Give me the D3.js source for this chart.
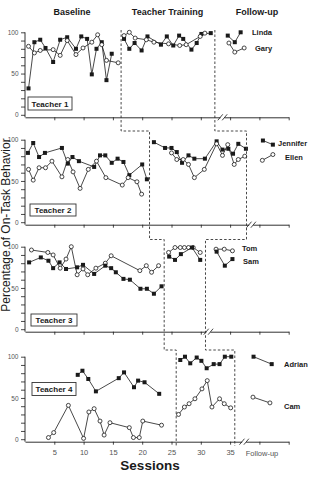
<!DOCTYPE html>
<html>
<head>
<meta charset="utf-8">
<script src="https://cdn.jsdelivr.net/npm/d3@7"></script>
<style>
  body { margin: 0; background: #fff; }
  svg { display: block; font-family: "Liberation Sans", Arial, Helvetica, sans-serif; }
</style>
</head>
<body>
<svg id="chart" width="311" height="478"></svg>
<script>

// ---- data (sessions, % on-task) ----
var sessionTicks = [5, 10, 15, 20, 25, 30, 35, 40, 45];
var tickLabels = [5, 10, 15, 20, 25, 30, 35];
var yTicks = [0, 10, 20, 30, 40, 50, 60, 70, 80, 90, 100];
var phaseNames = ["Baseline", "Teacher Training", "Follow-up"];
var teachers = ["Teacher 1", "Teacher 2", "Teacher 3", "Teacher 4"];
var students = [["Linda", "Gary"], ["Jennifer", "Ellen"], ["Tom", "Sam"], ["Adrian", "Cam"]];

// phase change points and axis breaks, in sessions
var baselineEnd = [16.4, 21.25, 23.75, 25.8];
var trainingEnd = [32.4, 37.8, 30.8, 35.8];
var axisBreak = [33.7, 38.6, 31.3, 37.4];

// Teacher 1
var lindaBase = [[0.6,32],[1.6,88],[2.6,91],[3.5,81],[4.8,64],[6.0,91],[7.2,94],[8.7,80],[9.6,95],[10.6,92],[11.4,49],[12.2,80],[13.1,88],[13.9,42],[14.8,74]];
var garyBase = [[0.6,83],[1.6,75],[2.6,78],[4.8,79],[6.0,72],[7.2,90],[8.7,73],[9.9,81],[11.4,88],[12.4,97],[13.1,85],[13.9,66],[15.9,63]];
var lindaTrain = [[16.9,92],[17.8,80],[18.7,87],[19.9,78],[20.9,95],[23.2,85],[24.2,95],[25.3,84],[26.3,96],[27.0,92],[28.4,79],[29.3,87],[30.1,98],[31.7,99]];
var garyTrain = [[16.9,96],[17.8,100],[18.8,93],[20.7,91],[22.0,88],[24.5,86],[26.4,84],[27.5,85],[29.9,95],[30.7,99]];
var lindaFollow = [[34.6,96],[35.8,88],[36.8,100]];
var garyFollow = [[34.8,87],[35.8,76],[37.4,81]];

// Teacher 2
var jenBase = [[0.5,84],[1.4,96],[2.4,79],[3.4,84],[6.3,90],[7.3,71],[8.1,79],[9.2,74],[11.8,67],[12.8,81],[13.7,81],[14.8,72],[15.8,77],[16.8,73],[17.8,57],[20.0,70],[20.8,52]];
var ellenBase = [[0.6,64],[1.4,51],[2.4,66],[3.5,66],[4.6,74],[6.3,55],[7.3,76],[8.2,61],[9.4,41],[10.8,64],[12.2,74],[13.8,54],[16.6,45],[17.6,54],[19.1,49],[19.9,34]];
var jenTrain = [[22.0,97],[23.9,90],[25.0,90],[25.9,85],[26.8,72],[27.9,81],[28.9,77],[30.7,77],[32.7,98],[33.7,88],[34.7,89],[35.5,83],[36.4,95],[37.7,89]];
var ellenTrain = [[25.0,84],[25.9,76],[27.0,76],[27.9,70],[28.9,54],[30.6,64],[32.7,95],[33.7,81],[34.6,94],[35.7,70],[36.4,76],[37.5,80]];
var jenFollow = [[40.6,99],[42.3,94]];
var ellenFollow = [[40.5,75],[42.3,82]];

// Teacher 3
var tomBase = [[1.1,96],[3.9,93],[4.8,90],[6.0,74],[7.0,85],[7.9,100],[8.9,66],[9.9,73],[10.7,66],[12.1,74],[13.7,80],[14.7,89],[19.6,71],[20.7,77],[21.6,69],[22.8,77]];
var samBase = [[0.7,81],[2.7,87],[4.0,83],[4.8,74],[5.9,81],[7.0,73],[8.9,75],[9.9,78],[11.8,67],[13.7,77],[14.7,74],[15.5,69],[16.8,61],[17.9,60],[19.7,49],[20.8,49],[22.0,43],[23.3,52]];
var tomTrain = [[24.5,93],[25.6,99],[26.5,99],[27.2,99],[27.9,99],[28.7,99],[29.9,93]];
var samTrain = [[24.6,88],[25.6,84],[26.6,91],[28.5,99],[29.9,84]];
var tomFollow = [[32.6,97],[34.0,97],[35.4,95]];
var samFollow = [[32.7,94],[34.1,77],[35.4,85]];

// Teacher 4
var adrianBase = [[9.0,78],[9.8,83],[10.8,73],[12.1,58],[16.0,74],[16.9,81],[18.6,63],[19.3,71],[20.4,69],[22.9,55]];
var camBase = [[4.0,2],[4.9,8],[7.4,41],[10.0,1],[10.9,33],[11.8,37],[12.8,22],[13.5,5],[14.5,20],[17.8,14],[18.5,2],[19.5,2],[20.1,22],[23.3,17]];
var adrianTrain = [[26.5,96],[27.3,100],[28.2,92],[29.3,99],[30.1,95],[31.0,86],[32.2,91],[33.2,91],[34.1,100],[35.2,100]];
var camTrain = [[26.2,30],[27.2,39],[28.0,43],[29.0,49],[30.2,61],[31.1,71],[31.9,39],[33.2,49],[34.0,43],[35.1,38]];
var adrianFollow = [[39.0,100],[42.1,91]];
var camFollow = [[38.9,51],[41.8,44]];

// series per panel: [phases], marker type
var panelSeries = [
  [{ phases: [lindaBase, lindaTrain, lindaFollow], mark: "square" },
   { phases: [garyBase, garyTrain, garyFollow], mark: "circle" }],
  [{ phases: [jenBase, jenTrain, jenFollow], mark: "square" },
   { phases: [ellenBase, ellenTrain, ellenFollow], mark: "circle" }],
  [{ phases: [tomBase, tomTrain, tomFollow], mark: "circle" },
   { phases: [samBase, samTrain, samFollow], mark: "square" }],
  [{ phases: [adrianBase, adrianTrain, adrianFollow], mark: "square" },
   { phases: [camBase, camTrain, camFollow], mark: "circle" }]
];

//=========================================================================
// layout
//=========================================================================
var svg = d3.select("#chart");
var ink = "#1a1a1a";
var panelTop = [32.3, 139.7, 246.7, 356.7],
    panelH = 82.5,
    axisGap = 2.5,
    stepY = [131, 239.5, 350],   // where the phase lines jog between panels
    lineBottom = 446;

var x = d3.scaleLinear().domain([0, 45]).range([25, 25 + 45 * 5.86]);

var boxes = [[28, 97, 44, 13], [30, 204, 46, 12], [31, 314, 46, 12], [32, 382.5, 44, 13]];
var nameSpots = [[[252, 34.5], [255, 50.5]], [[278, 146], [285, 159.5]],
                 [[242, 251], [243, 263.5]], [[284, 366.5], [284, 408.5]]];

var line = d3.line();

panelSeries.forEach(function(series, i) {
  var y = d3.scaleLinear().domain([0, 100]).range([panelTop[i] + panelH, panelTop[i]]);
  var axisY = y(0) + axisGap;
  var g = svg.append("g");

  // y axis
  var yAxis = d3.axisLeft(y).tickValues(yTicks).tickSize(4)
    .tickFormat(function(d) { return d % 50 === 0 ? d : ""; });
  var ya = g.append("g").attr("transform", "translate(" + x(0) + ",0)").call(yAxis);
  ya.select(".domain").remove();
  ya.selectAll("line").attr("stroke", ink).attr("stroke-width", 0.8);
  ya.selectAll("text").attr("font-size", 6.5).attr("fill", "#555").attr("x", -6.5);
  g.append("line").attr("x1", x(0)).attr("x2", x(0))
    .attr("y1", y(100)).attr("y2", axisY).attr("stroke", ink).attr("stroke-width", 0.9);

  // x axis
  var xAxis = d3.axisBottom(x).tickValues(sessionTicks).tickSize(3).tickSizeOuter(0)
    .tickFormat(function(d) { return (i === 3 && tickLabels.indexOf(d) >= 0) ? d : ""; });
  var xa = g.append("g").attr("transform", "translate(0," + axisY + ")").call(xAxis);
  xa.select(".domain").attr("stroke", ink).attr("stroke-width", 0.9);
  xa.selectAll("line").attr("stroke", ink).attr("stroke-width", 0.8);
  xa.selectAll("text").attr("font-size", 7.5).attr("fill", "#555").attr("y", 7.5);

  // axis break
  var bx = x(axisBreak[i]);
  g.append("rect").attr("x", bx - 2).attr("y", axisY - 2).attr("width", 4).attr("height", 4).attr("fill", "#fff");
  [-2.2, 2.2].forEach(function(o) {
    g.append("line").attr("x1", bx + o - 2.5).attr("y1", axisY + 3)
      .attr("x2", bx + o + 2.5).attr("y2", axisY - 3)
      .attr("stroke", ink).attr("stroke-width", 0.8);
  });

  // teacher box
  var b = boxes[i];
  g.append("rect").attr("x", b[0]).attr("y", b[1]).attr("width", b[2]).attr("height", b[3])
    .attr("fill", "#fff").attr("stroke", "#333").attr("stroke-width", 0.9);
  g.append("text").attr("x", b[0] + b[2] / 2).attr("y", b[1] + b[3] / 2 + 3)
    .attr("text-anchor", "middle").attr("font-size", 8).attr("font-weight", "bold")
    .attr("fill", ink).text(teachers[i]);

  // data
  series.forEach(function(s, k) {
    s.phases.forEach(function(pts) {
      g.append("path")
        .attr("d", line(pts.map(function(p) { return [x(p[0]), y(p[1])]; })))
        .attr("fill", "none").attr("stroke", ink).attr("stroke-width", 0.8);
      if (s.mark === "square") {
        g.selectAll(null).data(pts).enter().append("rect")
          .attr("x", function(p) { return x(p[0]) - 2; })
          .attr("y", function(p) { return y(p[1]) - 2; })
          .attr("width", 4).attr("height", 4).attr("fill", ink);
      } else {
        g.selectAll(null).data(pts).enter().append("circle")
          .attr("cx", function(p) { return x(p[0]); })
          .attr("cy", function(p) { return y(p[1]); })
          .attr("r", 2).attr("fill", "#fff").attr("stroke", ink).attr("stroke-width", 0.8);
      }
    });
    var spot = nameSpots[i][k];
    g.append("text").attr("x", spot[0]).attr("y", spot[1])
      .attr("font-size", 7.5).attr("font-weight", "bold").attr("fill", ink).text(students[i][k]);
  });
});

// phase change staircase lines
function stairs(ends) {
  var pts = [[x(ends[0]), 30]];
  for (var i = 0; i < 3; i++) {
    pts.push([x(ends[i]), stepY[i]]);
    pts.push([x(ends[i + 1]), stepY[i]]);
  }
  pts.push([x(ends[3]), lineBottom]);
  return pts;
}
[baselineEnd, trainingEnd].forEach(function(ends) {
  svg.append("path").attr("d", line(stairs(ends)))
    .attr("fill", "none").attr("stroke", "#333").attr("stroke-width", 0.9)
    .attr("stroke-dasharray", "2.5,2");
});

// phase titles
var titleX = [72, 167.5, 257];
phaseNames.forEach(function(t, i) {
  svg.append("text").attr("x", titleX[i]).attr("y", 14.5).attr("text-anchor", "middle")
    .attr("font-size", 9).attr("font-weight", "bold").attr("fill", ink).text(t);
});

svg.append("text").attr("x", 262).attr("y", 455.5).attr("text-anchor", "middle")
  .attr("font-size", 7.5).attr("fill", "#555").text("Follow-up");

svg.append("text").attr("x", 150).attr("y", 470).attr("text-anchor", "middle")
  .attr("font-size", 13.5).attr("font-weight", "bold").attr("fill", ink).text("Sessions");

svg.append("text").attr("transform", "translate(9.5,225) rotate(-90)")
  .attr("text-anchor", "middle").attr("font-size", 12).attr("fill", ink)
  .text("Percentage of On-Task Behavior");

</script>
</body>
</html>
